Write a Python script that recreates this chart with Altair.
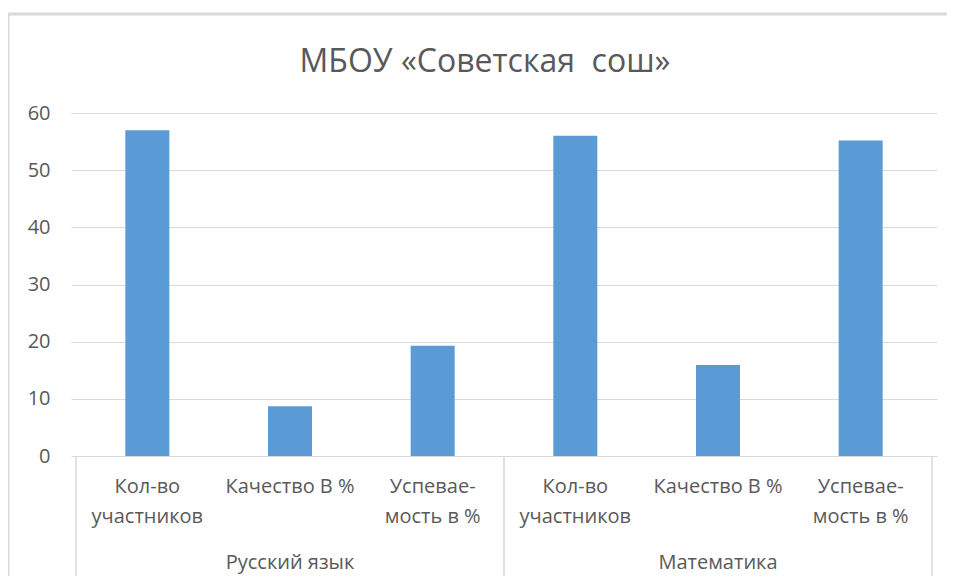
import altair as alt
import pandas as pd

# Data
groups = ["Русский язык", "Русский язык", "Русский язык", "Математика", "Математика", "Математика"]
labels = ["Кол-во\nучастников", "Качество В %", "Успевае-\nмость в %",
          "Кол-во\nучастников", "Качество В %", "Успевае-\nмость в %"]
values = [57, 8.7, 19.3, 56, 15.9, 55.2]
group_names = ["Русский язык", "Математика"]
title_text = "МБОУ «Советская\u00a0 сош»"

W, H = 866, 343
FONT = "Open Sans"
TXT = "#595959"
GRID = "#d9d9d9"
BAR = "#5b9bd5"

df = pd.DataFrame({
    "pos": [i + 0.5 for i in range(len(values))],
    "label": labels,
    "group": groups,
    "value": values,
})
gdf = pd.DataFrame({"pos": [1.5, 4.5], "group": group_names})
sep = pd.DataFrame({"pos": [0, 3, 6]})
tdf = pd.DataFrame({"t": [title_text]})

xscale = alt.Scale(domain=[0, 6], nice=False, zero=False)

bars = alt.Chart(df).mark_bar(size=44, color=BAR).encode(
    x=alt.X("pos:Q", scale=xscale, axis=None),
    y=alt.Y("value:Q", scale=alt.Scale(domain=[0, 60], nice=False),
            axis=alt.Axis(values=[0, 10, 20, 30, 40, 50, 60], grid=True, gridColor=GRID,
                          gridWidth=1, domain=False, ticks=False, labelFontSize=20,
                          labelFont=FONT, labelColor=TXT, labelPadding=21, title=None)),
)

cat_labels = alt.Chart(df).transform_calculate(
    lines="split(datum.label, '\\n')"
).mark_text(
    font=FONT, fontSize=20, color=TXT, baseline="top", lineHeight=30, align="center"
).encode(
    x=alt.X("pos:Q", scale=xscale),
    y=alt.value(H + 21),
    text="lines:N",
)

grp_labels = alt.Chart(gdf).mark_text(
    font=FONT, fontSize=20, color=TXT, baseline="middle", align="center"
).encode(
    x=alt.X("pos:Q", scale=xscale),
    y=alt.value(H + 107),
    text="group:N",
)

seps = alt.Chart(sep).mark_rule(color=GRID, strokeWidth=1.5).encode(
    x=alt.X("pos:Q", scale=xscale),
    y=alt.value(H),
    y2=alt.value(H + 121),
)

border = alt.Chart(sep).mark_rect(fill=None, stroke=GRID, strokeWidth=2.5).encode(
    x=alt.value(-63),
    x2=alt.value(W + 100),
    y=alt.value(-99),
    y2=alt.value(H + 200),
)

title = alt.Chart(tdf).mark_text(
    font=FONT, fontSize=32, color=TXT, baseline="middle", align="center"
).encode(
    x=alt.value(W / 2 - 19),
    y=alt.value(-51),
    text="t:N",
)

chart = alt.layer(border, bars, seps, cat_labels, grp_labels, title).properties(
    width=W, height=H,
    autosize=alt.AutoSizeParams(type="none"),
    padding={"left": 63, "top": 105, "right": 10, "bottom": 120},
).configure_view(strokeWidth=0)

chart.save("out.html", embed_options={"renderer": "svg", "actions": False})
